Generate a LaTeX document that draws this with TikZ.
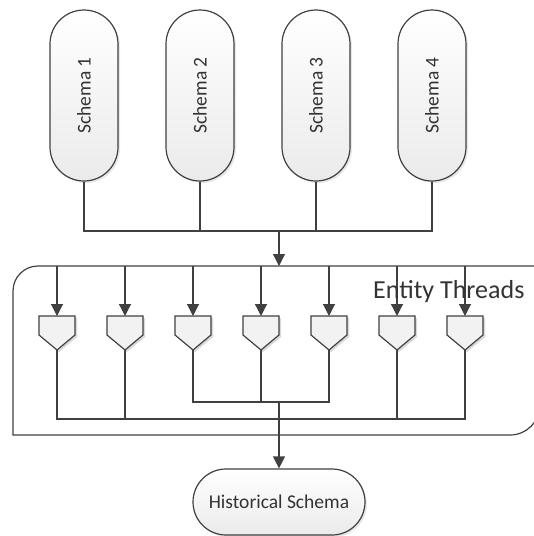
\documentclass[tikz,border=0pt]{standalone}
\usepackage{fontspec}
\setmainfont{Carlito}
\usetikzlibrary{shapes.misc,shadows,arrows.meta}
\definecolor{ink}{HTML}{404040}
\definecolor{label}{HTML}{333333}
\definecolor{shapefill}{HTML}{F2F2F2}
\begin{document}
\begin{tikzpicture}[x=1pt,y=-1pt,
  wire/.style={draw=ink, line width=1.2pt},
  flow/.style={wire, -{Triangle[length=12pt,width=12pt]}},
  capsule/.style={rounded rectangle, draw=ink, line width=1.2pt,
    top color=white, bottom color=black!8,
    drop shadow={opacity=0.18, shadow xshift=2pt, shadow yshift=-2pt},
    text=label, font=\fontsize{19.5}{19.5}\selectfont, inner sep=0pt},
  schema/.style={capsule, rotate=90, minimum width=171pt, minimum height=68pt},
  slot/.style={minimum width=36pt, minimum height=34pt, inner sep=0pt, outer sep=0pt},
]
\useasboundingbox (0,0) rectangle (534,536);

% source schemas
\node[schema] (s1) at (84,95.5)  {Schema 1};
\node[schema] (s2) at (200,95.5) {Schema 2};
\node[schema] (s3) at (316,95.5) {Schema 3};
\node[schema] (s4) at (432,95.5) {Schema 4};

% junctions on the main axis
\coordinate (j)  at (279,231);
\coordinate (ft) at (279,266);
\coordinate (m1) at (279,402);
\coordinate (m2) at (279,419);

% collecting bus of the schemas
\draw[wire] (s1.west) |- (j) -| (s4.west);
\draw[wire] (s2.west) -- (s2.west |- j);
\draw[wire] (s3.west) -- (s3.west |- j);
\draw[flow] (j) -- (ft);

% container of the entity threads
\begin{scope}
  \clip (0,0) rectangle (534,536);
  \draw[wire] (545,266) -- (38,266) arc[start angle=270, end angle=180, radius=25]
    -- (13,435) -- (510,435) arc[start angle=90, end angle=0, radius=30] -- (540,260);
\end{scope}

% thread slots
\foreach \n/\x in {1/57,2/125,3/193,4/261,5/329,6/397,7/465}{
  \node[slot] (p\n) at (\x,333) {};
  \draw[wire, fill=shapefill,
        preaction={fill=black, opacity=0.15, transform canvas={xshift=2pt, yshift=-2pt}}]
    (p\n.north west) -- (p\n.north east) -- ([yshift=-19pt]p\n.north east)
    -- (p\n.south) -- ([yshift=-19pt]p\n.north west) -- cycle;
  \draw[flow] (p\n.north |- ft) -- (p\n.north);
}

% merging buses below the slots
\draw[wire] (p3.south) |- (m1) -| (p5.south);
\draw[wire] (p4.south) -- (p4.south |- m1);
\draw[wire] (p1.south) |- (m2) -| (p7.south);
\draw[wire] (p2.south) -- (p2.south |- m2);
\draw[wire] (p6.south) -- (p6.south |- m2);

% result
\node[capsule, minimum width=172pt, minimum height=66pt] (hs) at (279,502) {Historical Schema};
\draw[flow] (m1) -- (hs.north);

\node[anchor=base west, inner sep=0pt, text=label, font=\fontsize{26}{26}\selectfont]
  (et) at (373,298) {Entity Threads};
\end{tikzpicture}
\end{document}
